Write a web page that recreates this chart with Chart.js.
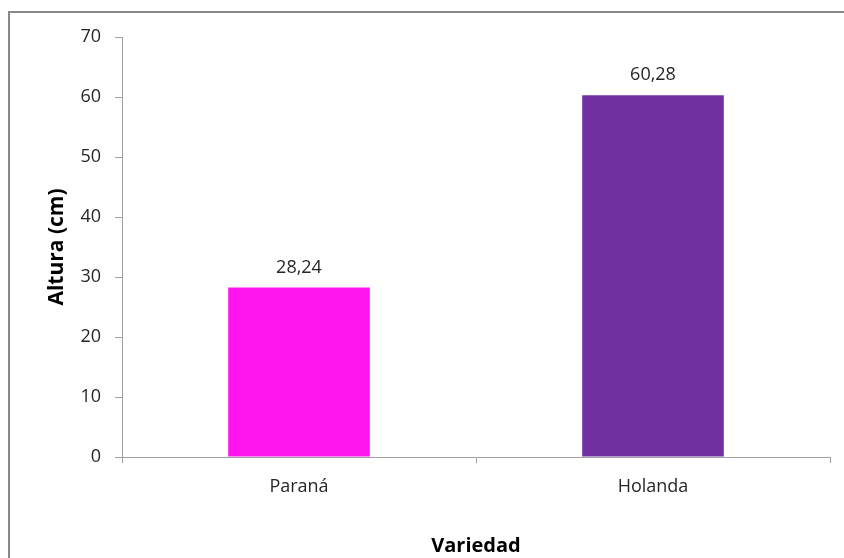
<!DOCTYPE html>
<html>
<head>
<meta charset="utf-8">
<script src="https://cdn.jsdelivr.net/npm/chart.js@4.4.0/dist/chart.umd.min.js"></script>
<style>
    html, body { margin: 0; padding: 0; background: #ffffff; overflow: hidden; }
    #wrap { position: relative; width: 844px; height: 558px; }
    #frame {
        position: absolute; left: 8px; top: 11px; width: 900px; height: 600px;
        border-left: 2px solid #888888; border-top: 2px solid #888888;
        pointer-events: none;
    }
    canvas { position: absolute; left: 0; top: 0; }
</style>
</head>
<body>
<div id="wrap">
    <canvas id="chart" width="844" height="558"></canvas>
    <div id="frame"></div>
</div>
<script>
const categories = ['Paraná', 'Holanda'];
const alturas = [28.24, 60.28];
const barColors = ['#FF14EE', '#7030A0'];
const yTicks = [0, 10, 20, 30, 40, 50, 60, 70];

const FONT = "'Open Sans', 'Noto Sans', sans-serif";

// etiquetas de valor encima de cada barra, con coma decimal
const valueLabels = {
    id: 'valueLabels',
    afterDatasetsDraw(chart) {
        const ctx = chart.ctx;
        const meta = chart.getDatasetMeta(0);
        ctx.save();
        ctx.font = '18px ' + FONT;
        ctx.fillStyle = '#262626';
        ctx.textAlign = 'center';
        ctx.textBaseline = 'alphabetic';
        meta.data.forEach((bar, i) => {
            const txt = alturas[i].toFixed(2).replace('.', ',');
            ctx.fillText(txt, bar.x, bar.y - 15);
        });
        ctx.restore();
    }
};

new Chart(document.getElementById('chart').getContext('2d'), {
    type: 'bar',
    data: {
        labels: categories,
        datasets: [{
            data: alturas,
            backgroundColor: barColors,
            borderWidth: 0,
            barPercentage: 1,
            categoryPercentage: 0.4
        }]
    },
    options: {
        responsive: false,
        animation: false,
        layout: { padding: { left: 0, right: 14, top: 37, bottom: 0 } },
        plugins: {
            legend: { display: false },
            tooltip: { enabled: false }
        },
        scales: {
            x: {
                grid: { drawOnChartArea: false, drawTicks: true, tickLength: 6, color: '#A0A0A0' },
                border: { display: true, color: '#A0A0A0', width: 1 },
                ticks: { color: '#262626', padding: 13, font: { family: FONT, size: 18 } },
                title: {
                    display: true, text: 'Variedad', color: '#000000',
                    font: { family: FONT, size: 20, weight: 'bold' },
                    padding: { top: 22, bottom: 0 }
                },
                afterFit(scale) { scale.height = 101; }
            },
            y: {
                min: 0, max: 70,
                afterBuildTicks(scale) { scale.ticks = yTicks.map(v => ({ value: v })); },
                grid: { drawOnChartArea: false, drawTicks: true, tickLength: 7, color: '#A0A0A0' },
                border: { display: true, color: '#A0A0A0', width: 1 },
                ticks: { color: '#262626', padding: 14, font: { family: FONT, size: 18 } },
                title: {
                    display: true, text: 'Altura (cm)', color: '#000000',
                    font: { family: FONT, size: 21, weight: 'bold' },
                    padding: { top: 44, bottom: 0 }
                },
                afterFit(scale) { scale.width = 122; }
            }
        }
    },
    plugins: [valueLabels]
});
</script>
</body>
</html>
